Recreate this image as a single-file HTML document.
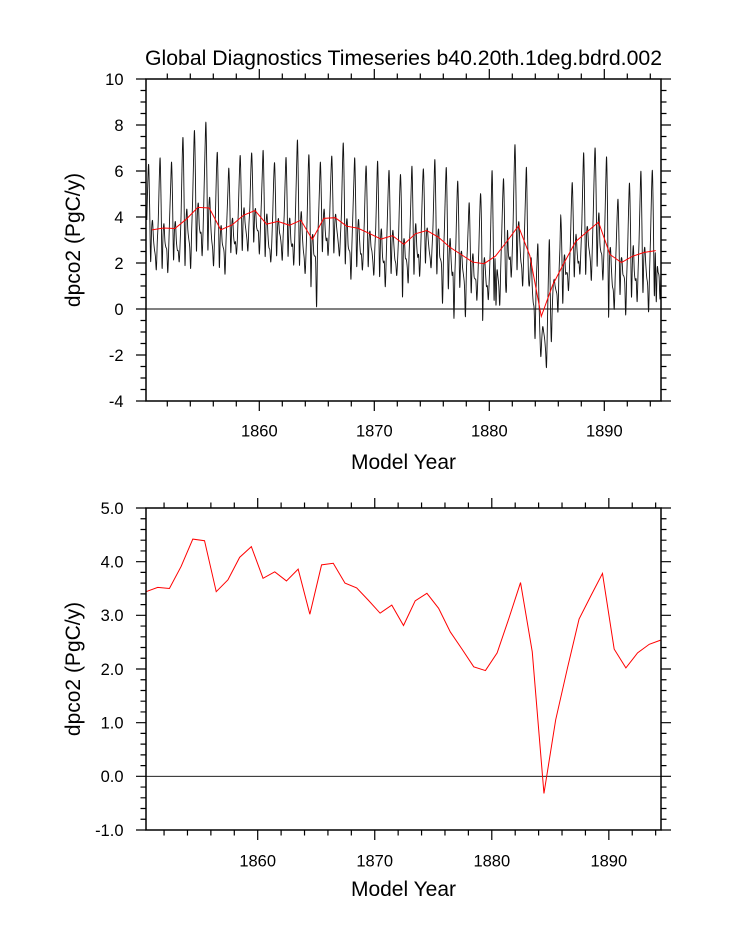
<!DOCTYPE html>
<html><head><meta charset="utf-8"><style>
html,body{margin:0;padding:0;background:#fff;}
svg{display:block;}
text{font-family:"Liberation Sans",Arial,sans-serif;fill:#000;}
</style></head><body>
<svg id="c" width="733" height="945" viewBox="0 0 733 945" xmlns="http://www.w3.org/2000/svg">
<rect width="733" height="945" fill="#fff"/>
<text x="403.5" y="65" font-size="21" text-anchor="middle" textLength="517" lengthAdjust="spacingAndGlyphs">Global Diagnostics Timeseries b40.20th.1deg.bdrd.002</text>

<g id="topplot">
<line x1="146" y1="309" x2="661" y2="309" stroke="#000" stroke-width="0.9"/>
<path id="blk" d="" fill="none" stroke="#111" stroke-width="0.9" stroke-linejoin="round"/>
<path id="red1" d="" fill="none" stroke="#ff0000" stroke-width="1"/>
<g id="ticks1" stroke="#000" stroke-width="1.2"></g>
<rect x="146" y="79" width="515" height="322" fill="none" stroke="#000" stroke-width="1.5"/>
</g>
<g font-size="16.5" text-anchor="end">
<text x="123.5" y="84.9">10</text>
<text x="123.5" y="130.9">8</text>
<text x="123.5" y="176.9">6</text>
<text x="123.5" y="222.9">4</text>
<text x="123.5" y="268.9">2</text>
<text x="123.5" y="314.9">0</text>
<text x="123.5" y="360.9">-2</text>
<text x="123.5" y="406.9">-4</text>
</g>
<g font-size="16.5" text-anchor="middle">
<text x="259.3" y="436.5">1860</text>
<text x="374.3" y="436.5">1870</text>
<text x="489.3" y="436.5">1880</text>
<text x="604.3" y="436.5">1890</text>
</g>
<text x="403.5" y="469" font-size="21" text-anchor="middle">Model Year</text>
<text transform="translate(80,240) rotate(-90)" font-size="21" text-anchor="middle">dpco2 (PgC/y)</text>

<g id="botplot">
<line x1="146" y1="776.3" x2="661" y2="776.3" stroke="#000" stroke-width="0.9"/>
<path id="red2" d="" fill="none" stroke="#ff0000" stroke-width="1"/>
<g id="ticks2" stroke="#000" stroke-width="1.2"></g>
<rect x="146" y="508" width="515" height="322" fill="none" stroke="#000" stroke-width="1.5"/>
</g>
<g font-size="16.5" text-anchor="end">
<text x="123.5" y="513.9">5.0</text>
<text x="123.5" y="567.6">4.0</text>
<text x="123.5" y="621.2">3.0</text>
<text x="123.5" y="674.9">2.0</text>
<text x="123.5" y="728.6">1.0</text>
<text x="123.5" y="782.2">0.0</text>
<text x="123.5" y="835.9">-1.0</text>
</g>
<g font-size="16.5" text-anchor="middle">
<text x="257.7" y="866.5">1860</text>
<text x="374.7" y="866.5">1870</text>
<text x="491.8" y="866.5">1880</text>
<text x="608.8" y="866.5">1890</text>
</g>
<text x="403.5" y="896" font-size="21" text-anchor="middle">Model Year</text>
<text transform="translate(80,669) rotate(-90)" font-size="21" text-anchor="middle">dpco2 (PgC/y)</text>
</svg>
<script>
(function(){
var red=[3.44,3.52,3.50,3.91,4.42,4.39,3.44,3.66,4.08,4.28,3.69,3.81,3.64,3.86,3.02,3.94,3.97,3.60,3.51,3.28,3.04,3.19,2.81,3.27,3.41,3.13,2.69,2.37,2.04,1.97,2.30,2.94,3.61,2.32,-0.32,1.05,2.01,2.93,3.36,3.78,2.37,2.02,2.30,2.46,2.54];
var P=[6.26,6.55,6.38,7.42,7.75,8.10,6.77,6.12,6.65,6.77,6.88,6.33,6.58,7.32,6.67,6.38,6.62,7.20,6.55,6.19,6.41,6.0,5.83,6.19,6.07,6.48,6.12,5.54,4.6,4.99,6.0,5.64,7.13,6.12,2.78,3.0,4.1,5.49,6.77,6.98,6.59,4.74,5.46,5.97,6.0];
var s=[3.29,1.2,-1.7,-0.2,0.3,-0.6,-1.0,-1.2,-2.0,-0.8,0.5,2.2];
function base(m){var t=(m-5.5)/12;if(t<=0)return red[0];if(t>=44)return red[44];var i=Math.floor(t),f=t-i;return red[i]*(1-f)+red[i+1]*f;}
var v=[];
for(var m=0;m<540;m++){
  var k=((m-2)%12+12)%12;
  var j=Math.floor(m/12);
  var A=(P[j]-base(12*j+2))/3.29;
  var n=(k===0)?0:0.15*Math.sin(m*1.37+1.7*Math.sin(m*0.53));
  v.push(base(m)+A*s[k]+n);
}
var ov={172:1.0,178:0.1,268:0.54,310:0.25,322:-0.41,334:-0.33,352:-0.48,366:0.17,377:0.9,436:0.25,484:-0.33,502:-0.26,514:0.32,526:-0.12,534:0.32};
for(var key in ov){v[+key]=ov[key];}
var deep=[3.5,5.0,6.12,3.5,1.5,1.0,1.8,2.2,1.0,0.3,0.0,-1.28, 0.8,2.0,2.78,0.5,-1.0,-2.07,-1.3,-0.77,-1.0,-1.3,-1.8,-2.51, -0.5,1.5,3.0,0.5,-1.42,0.0,1.0,1.3,1.0,0.8,0.6,-0.12, 1.5,2.6];
for(var i=0;i<deep.length;i++){v[396+i]=deep[i];}
var pts=[];
for(var m=0;m<540;m++){pts.push([146.8+0.954*m,309-v[m]*23]);}
var d="M"+pts[0][0].toFixed(2)+" "+pts[0][1].toFixed(2);
for(var i=0;i<pts.length-1;i++){
  var p0=pts[i>0?i-1:i],p1=pts[i],p2=pts[i+1],p3=pts[i+2<pts.length?i+2:i+1];
  var t=0.5/3;
  var c1x=p1[0]+(p2[0]-p0[0])*t,c1y=p1[1]+(p2[1]-p0[1])*t;
  var c2x=p2[0]-(p3[0]-p1[0])*t,c2y=p2[1]-(p3[1]-p1[1])*t;
  d+="C"+c1x.toFixed(2)+" "+c1y.toFixed(2)+" "+c2x.toFixed(2)+" "+c2y.toFixed(2)+" "+p2[0].toFixed(2)+" "+p2[1].toFixed(2);
}
document.getElementById("blk").setAttribute("d",d);
var d1="",d2="";
for(var i=0;i<45;i++){
  var x1=152.05+11.448*i,y1=309-red[i]*23;
  d1+=(i?"L":"M")+x1.toFixed(2)+" "+y1.toFixed(2);
  var x2=146+11.7045*i,y2=776.3-red[i]*53.667;
  d2+=(i?"L":"M")+x2.toFixed(2)+" "+y2.toFixed(2);
}
document.getElementById("red1").setAttribute("d",d1);
document.getElementById("red2").setAttribute("d",d2);
function ticks(id,x0,x1,y0,y1,xf,yvals){
  var p="";
  for(var yr=1852;yr<=1894;yr+=2){
    var x=xf(yr),L=(yr%10===0)?10:5.5;
    if(x<x0||x>x1)continue;
    p+="M"+x.toFixed(2)+" "+y0+"V"+(y0-L)+"M"+x.toFixed(2)+" "+y1+"V"+(y1+L);
  }
  for(var i=0;i<yvals.length;i++){
    var y=yvals[i][0],L=yvals[i][1]?10:5.5;
    p+="M"+x0+" "+y.toFixed(2)+"H"+(x0-L)+"M"+x1+" "+y.toFixed(2)+"H"+(x1+L);
  }
  var e=document.createElementNS("http://www.w3.org/2000/svg","path");
  e.setAttribute("d",p);e.setAttribute("fill","none");
  document.getElementById(id).appendChild(e);
}
var yv1=[];for(var q=0;q<=28;q++){yv1.push([79+q*11.5,q%4===0]);}
ticks("ticks1",146,661,79,401,function(yr){return 259.3+(yr-1860)*11.5;},yv1);
var yv2=[];for(var q=0;q<=30;q++){yv2.push([508+q*10.7333,q%5===0]);}
ticks("ticks2",146,661,508,830,function(yr){return 257.7+(yr-1860)*11.7045;},yv2);
})();
</script>
</body></html>
